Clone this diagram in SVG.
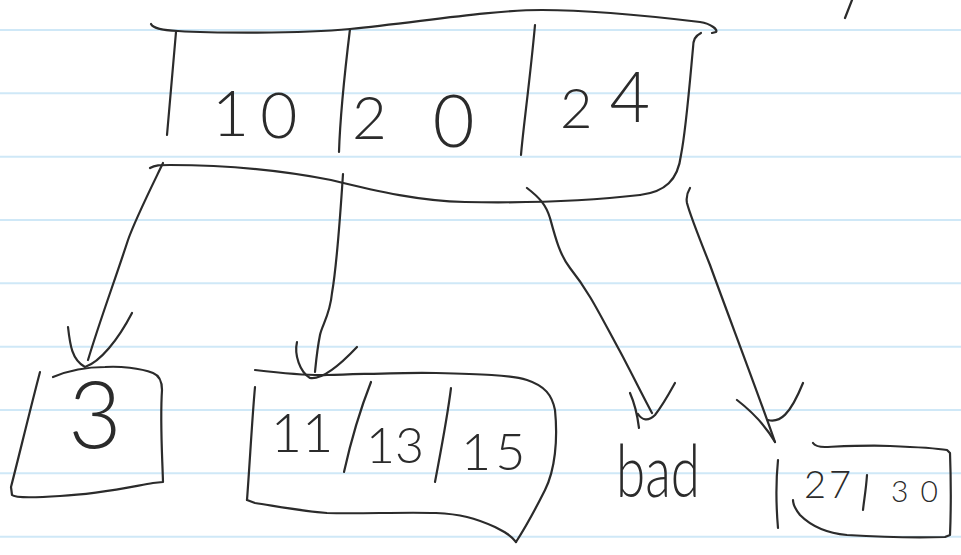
<svg xmlns="http://www.w3.org/2000/svg" width="961" height="555" viewBox="0 0 961 555">
<style>
.rule{stroke:#cfe8f7;stroke-width:2;fill:none}
.ink{stroke:#2b2b2b;stroke-width:2.2;fill:none;stroke-linecap:round;stroke-linejoin:round}
.hand{font-family:Lato,"Open Sans","Liberation Sans",sans-serif;font-weight:300;fill:#2b2b2b}
</style>
<rect width="961" height="555" fill="#ffffff"/>
<g id="paper">
<line class="rule" x1="0" y1="30" x2="961" y2="30"/>
<line class="rule" x1="0" y1="93.3" x2="961" y2="93.3"/>
<line class="rule" x1="0" y1="156.7" x2="961" y2="156.7"/>
<line class="rule" x1="0" y1="220" x2="961" y2="220"/>
<line class="rule" x1="0" y1="283.3" x2="961" y2="283.3"/>
<line class="rule" x1="0" y1="346.7" x2="961" y2="346.7"/>
<line class="rule" x1="0" y1="410" x2="961" y2="410"/>
<line class="rule" x1="0" y1="473.3" x2="961" y2="473.3"/>
<line class="rule" x1="0" y1="536.7" x2="961" y2="536.7"/>
<path class="ink" d="M852,0 L845,18"/>
</g>
<g id="node-root">
<path class="ink" d="M151,24 C153,28 160,30 178,31 C210,33 300,34 350,29 C420,22 490,10 542,10 C590,10 650,16 700,22 C712,24 718,30 716,32 L712,33"/>
<path class="ink" d="M176,32 L167,135"/>
<path class="ink" d="M350,29 C345,70 340,120 339,152"/>
<path class="ink" d="M535,25 C530,80 523,130 521,155"/>
<path class="ink" d="M701,33 C695,36 693,40 693,48 C690,80 686,130 681,155 C678,180 665,192 640,195"/>
<path class="ink" d="M150,168 C155,165 160,165 170,165 C220,165 280,170 331,180 C380,192 420,201 465,202 C520,203 580,202 640,195"/>
<text class="hand" font-size="64" x="212" y="136">1<tspan dx="11" dy="2">0</tspan></text>
<text class="hand" font-size="60" x="352" y="139">2<tspan dx="46" dy="8" font-size="72">0</tspan></text>
<text class="hand" font-size="56" x="560" y="128">2<tspan dx="17" dy="-6" font-size="70">4</tspan></text>
</g>
<g id="node-3">
<path class="ink" d="M40,372 C30,410 18,460 11,487 L12,495 C15,498 30,498 60,496 C100,494 130,487 153,483 L163,482 C162,450 160,420 162,390 C162,380 158,375 153,373 C140,368 120,366 105,367 C85,367 65,372 53,377"/>
<text class="hand" font-size="92" x="95" y="448" text-anchor="middle">3</text>
</g>
<g id="node-11-13-15">
<path class="ink" d="M255,370 C290,374 310,376 327,375 C370,374 410,372 436,373 C480,374 510,375 527,380 C545,386 552,395 555,410 C558,440 555,470 545,490 C535,510 525,528 516,542"/>
<path class="ink" d="M516,542 C510,535 505,532 495,527 C475,518 460,514 436,513 C400,512 360,514 327,513 C300,511 275,506 255,503 L247,500"/>
<path class="ink" d="M255,387 C252,420 250,460 247,500"/>
<path class="ink" d="M371,382 C360,410 350,445 344,472"/>
<path class="ink" d="M451,388 C447,420 440,455 435,482"/>
<text class="hand" font-size="54" x="302" y="452" text-anchor="middle">11</text>
<text class="hand" font-size="50" x="395" y="463" text-anchor="middle">13</text>
<text class="hand" font-size="52" x="461" y="470">1<tspan dx="4">5</tspan></text>
</g>
<g id="node-bad">
<text class="hand" font-size="72" x="658" y="497" text-anchor="middle" textLength="84" lengthAdjust="spacingAndGlyphs">bad</text>
</g>
<g id="node-27-30">
<path class="ink" d="M778,460 C776,480 776,505 778,528"/>
<path class="ink" d="M813,443 C815,446 818,447 825,447 C850,446 870,445 890,446 C915,447 935,448 947,450 L950,453 C951,480 951,510 950,535 L945,537 C910,538 880,537 847,535 C825,533 810,525 800,515 C796,510 793,505 793,500"/>
<path class="ink" d="M867,475 C866,490 864,500 863,510"/>
<text class="hand" font-size="38" x="804" y="498">2<tspan dx="3">7</tspan></text>
<text class="hand" font-size="30" x="891" y="502">3<tspan dx="12">0</tspan></text>
</g>
<g id="connectors">
<path class="ink" d="M163,163 C150,190 135,220 128,240 C115,280 100,320 88,360"/>
<path class="ink" d="M68,327 C70,345 72,360 85,367 C100,362 118,340 132,313"/>
<path class="ink" d="M343,174 C340,220 336,270 332,293 C330,315 322,325 320,335 C317,350 316,362 315,372"/>
<path class="ink" d="M297,342 C294,355 300,372 310,378 C322,380 340,365 357,347"/>
<path class="ink" d="M527,188 C540,198 546,205 550,218 C556,240 560,255 570,268 C590,293 600,315 623,357 C635,380 645,400 652,413"/>
<path class="ink" d="M630,393 C634,402 637,412 639,428 M638,414 C642,420 648,422 655,415 C663,405 670,392 675,383"/>
<path class="ink" d="M690,188 C687,193 686,198 687,203 C690,215 700,240 710,265 C730,320 755,385 775,442"/>
<path class="ink" d="M737,400 C750,410 765,425 775,442 M768,420 C780,423 790,415 803,383"/>
</g>
</svg>
